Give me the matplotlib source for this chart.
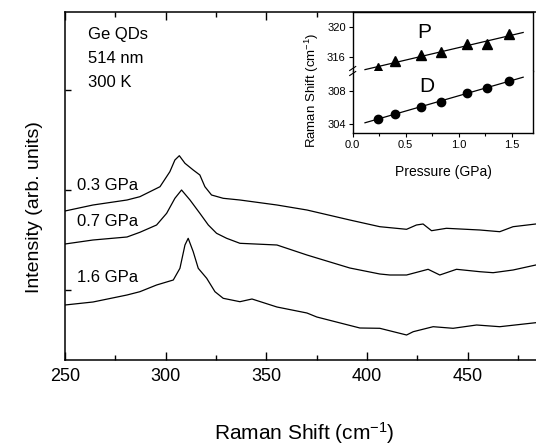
import numpy as np
import matplotlib
matplotlib.use("Agg")
import matplotlib.pyplot as plt
from matplotlib.ticker import MultipleLocator, NullFormatter

plt.rcParams['font.family'] = ['Liberation Sans', 'DejaVu Sans']
plt.rcParams['mathtext.fontset'] = 'custom'
plt.rcParams['mathtext.rm'] = 'Liberation Sans'
plt.rcParams['mathtext.it'] = 'Liberation Sans:italic'

# spectra (Raman shift in cm-1, intensity in arb. units, already offset)
w_03 = [250, 263.9, 280.8, 287.2, 297.2, 302.1, 304.6, 306.8, 309.6, 313.7, 317.0, 319.5,
        322.8, 328.6, 336.9, 355.3, 370.2, 391.5, 406.4, 419.7, 424.6, 427.9, 432.1,
        439.5, 456.1, 466.0, 472.6, 483.9]
i_03 = [1.49, 1.55, 1.60, 1.633, 1.733, 1.883, 2.00, 2.043, 1.967, 1.90, 1.85, 1.733,
        1.65, 1.617, 1.60, 1.55, 1.50, 1.40, 1.333, 1.307, 1.35, 1.36, 1.293,
        1.317, 1.30, 1.283, 1.333, 1.36]

w_07 = [250, 263.9, 280.8, 287.2, 295.5, 300.5, 304.6, 307.9, 312.1, 317.0, 321.2, 325.3,
        330.3, 336.9, 355.3, 370.2, 375.1, 391.5, 406.4, 411.4, 419.7, 430.4, 436.2,
        444.5, 456.1, 462.7, 472.6, 483.9]
i_07 = [1.16, 1.20, 1.23, 1.277, 1.35, 1.467, 1.617, 1.70, 1.60, 1.467, 1.35, 1.267,
        1.217, 1.167, 1.15, 1.05, 1.02, 0.92, 0.86, 0.85, 0.85, 0.907, 0.85,
        0.907, 0.883, 0.873, 0.90, 0.95]

w_16 = [250, 263.9, 280.8, 287.2, 295.5, 303.8, 307.1, 309.6, 311.2, 313.7, 316.2, 320.4,
        324.5, 328.6, 336.9, 342.9, 355.3, 370.2, 375.1, 396.5, 406.4, 419.7, 423.0,
        432.9, 442.8, 454.5, 466.0, 483.9]
i_16 = [0.55, 0.58, 0.65, 0.683, 0.75, 0.80, 0.917, 1.15, 1.217, 1.083, 0.917, 0.817,
        0.683, 0.617, 0.583, 0.61, 0.53, 0.47, 0.43, 0.32, 0.317, 0.25, 0.283,
        0.333, 0.317, 0.35, 0.333, 0.373]

labels = ['0.3 GPa', '0.7 GPa', '1.6 GPa']
label_y = [1.75, 1.38, 0.83]

# inset: peak positions vs pressure
pressure = [0.242, 0.399, 0.642, 0.831, 1.076, 1.267, 1.474]
peak_p = [314.45, 315.43, 316.23, 316.59, 317.65, 317.69, 318.99]
peak_d = [304.60, 305.24, 306.08, 306.68, 307.69, 308.36, 309.20]

fig = plt.figure(figsize=(5.36, 4.45), dpi=100)
ax = fig.add_axes([65/536, 85/445, 471/536, 348/445])

for w, i in zip([w_03, w_07, w_16], [i_03, i_07, i_16]):
    ax.plot(w, i, color='black', lw=0.9)
for lab, yy in zip(labels, label_y):
    ax.text(256, yy, lab, fontsize=12, va='center', ha='left')

ax.set_xlim(250, 484)
ax.set_ylim(0, 3.48)
ax.xaxis.set_major_locator(MultipleLocator(50))
ax.xaxis.set_minor_locator(MultipleLocator(25))
ax.set_yticks([0.7, 1.7, 2.7])
ax.yaxis.set_major_formatter(NullFormatter())
ax.tick_params(which='both', direction='in', top=True, right=False, width=1.0)
ax.tick_params(which='major', length=6, labelsize=13, pad=6)
ax.tick_params(which='minor', length=3.5)
ax.tick_params(axis='y', length=4)
ax.spines['right'].set_visible(False)
for s in ['left', 'bottom', 'top']:
    ax.spines[s].set_linewidth(1.1)

ax.text(0.049, 0.934, 'Ge QDs', transform=ax.transAxes, fontsize=12, va='center')
ax.text(0.049, 0.866, '514 nm', transform=ax.transAxes, fontsize=12, va='center')
ax.text(0.049, 0.797, '300 K', transform=ax.transAxes, fontsize=12, va='center')

fig.text(304/536, 1 - 433/445, 'Raman Shift (cm$^{-1}$)', fontsize=15, ha='center', va='center')
fig.text(35/536, 1 - 207/445, 'Intensity (arb. units)', fontsize=14, rotation=90,
         ha='center', va='center')

# inset with broken y axis
left, width = 352.7/536, 180/536
ax_up = fig.add_axes([left, 1 - 71/445, width, 59/445])
ax_lo = fig.add_axes([left, 1 - 133/445, width, 62/445])

xfit = np.array([0.116, 1.61])
for a, vals, mk, ms in [(ax_up, peak_p, '^', 7), (ax_lo, peak_d, 'o', 6)]:
    a.plot(pressure, vals, mk, color='black', ms=ms, ls='none')
    k, b = np.polyfit(pressure, vals, 1)
    a.plot(xfit, k * xfit + b, color='black', lw=0.9)
    a.set_xlim(0, 1.7)
    a.xaxis.set_major_locator(MultipleLocator(0.5))
    a.xaxis.set_minor_locator(MultipleLocator(0.25))
    a.tick_params(which='both', direction='out', labelsize=8, width=0.8, pad=2)
    a.tick_params(which='major', length=3)
    a.tick_params(which='minor', length=2)
    for s in a.spines.values():
        s.set_linewidth(1.0)

ax_up.set_ylim(314.1, 322)
ax_up.set_yticks([316, 320])
ax_up.spines['bottom'].set_visible(False)
ax_up.tick_params(axis='x', which='both', bottom=False, labelbottom=False)
ax_up.text(0.68, 319.3, 'P', fontsize=15, ha='center', va='center')

ax_lo.set_ylim(302.9, 310.4)
ax_lo.set_yticks([304, 308])
ax_lo.spines['top'].set_visible(False)
ax_lo.text(0.70, 308.5, 'D', fontsize=15, ha='center', va='center')

# break mark on the inset y axis
for dy in [-2.5, 2.5]:
    yb = 1 - (71 + dy) / 445
    fig.add_artist(plt.Line2D([left - 3/536, left + 3/536], [yb - 2/445, yb + 2/445],
                              color='black', lw=0.8))

fig.text(443/536, 1 - 172/445, 'Pressure (GPa)', fontsize=10, ha='center', va='center')
fig.text(312/536, 1 - 90/445, 'Raman Shift (cm$^{-1}$)', fontsize=9.5, rotation=90,
         ha='center', va='center')

fig.savefig('out.png', dpi=100)
